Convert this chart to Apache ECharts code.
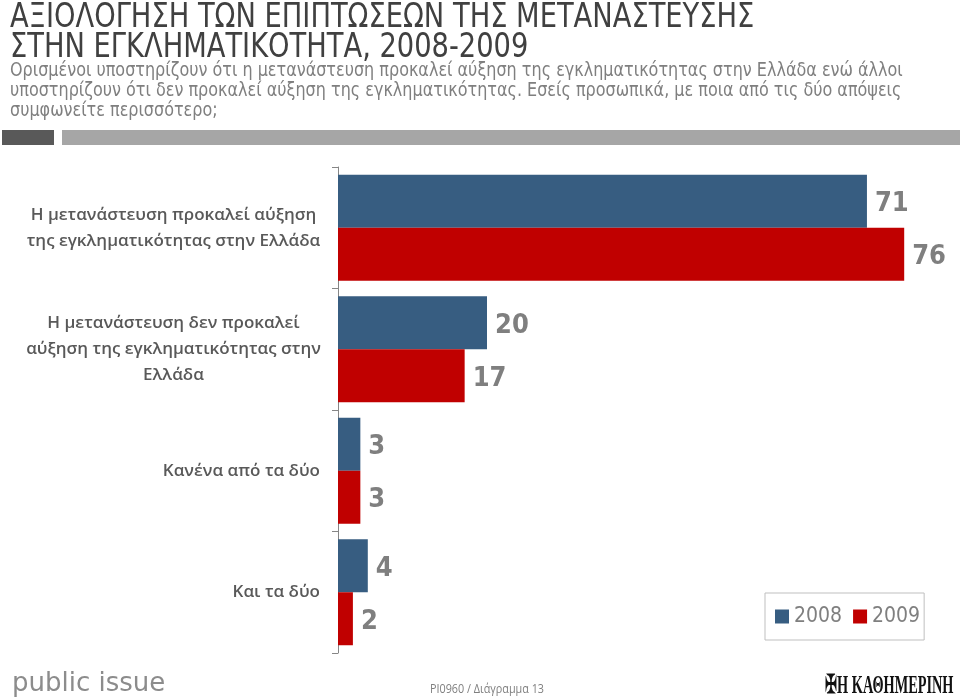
<!DOCTYPE html>
<html>
<head>
<meta charset="utf-8">
<script src="https://cdn.jsdelivr.net/npm/echarts@6/dist/echarts.min.js"></script>
<style>html,body{margin:0;padding:0;background:#fff}#c{width:960px;height:700px}</style>
</head>
<body>
<div id="c"></div>
<script>
var categories = [
  'Η μετανάστευση προκαλεί αύξηση\nτης εγκληματικότητας στην Ελλάδα',
  'Η μετανάστευση δεν προκαλεί\nαύξηση της εγκληματικότητας στην\nΕλλάδα',
  'Κανένα από τα δύο',
  'Και τα δύο'
];
var seriesNames = ['2008', '2009'];
var values2008 = [71, 20, 3, 4];
var values2009 = [76, 17, 3, 2];
var titleText = 'ΑΞΙΟΛΟΓΗΣΗ ΤΩΝ ΕΠΙΠΤΩΣΕΩΝ ΤΗΣ ΜΕΤΑΝΑΣΤΕΥΣΗΣ\nΣΤΗΝ ΕΓΚΛΗΜΑΤΙΚΟΤΗΤΑ, 2008-2009';
var subText = 'Ορισμένοι υποστηρίζουν ότι η μετανάστευση προκαλεί αύξηση της εγκληματικότητας στην Ελλάδα ενώ άλλοι\nυποστηρίζουν ότι δεν προκαλεί αύξηση της εγκληματικότητας. Εσείς προσωπικά, με ποια από τις δύο απόψεις\nσυμφωνείτε περισσότερο;';

var narrow = "'DejaVu Sans Condensed', 'Liberation Sans Narrow', sans-serif";
var chart = echarts.init(document.getElementById('c'));
var labelStyle = {
  show: true, position: 'right', distance: 8, offset: [0, 3],
  color: '#7f7f7f', fontSize: 27, fontFamily: narrow, fontWeight: 'bold'
};
chart.setOption({
  backgroundColor: '#fff',
  animation: false,
  legend: {
    data: seriesNames,
    left: 765, top: 593,
    padding: [13, 4, 13, 10],
    borderColor: '#bfbfbf', borderWidth: 1,
    itemWidth: 14, itemHeight: 14, itemGap: 11,
    icon: 'rect',
    textStyle: { color: '#7f7f7f', fontSize: 21, fontFamily: narrow, padding: [0, 0, 0, 0] }
  },
  grid: { left: 338, right: 26, top: 167, bottom: 47, containLabel: false },
  xAxis: {
    type: 'value', min: 0, max: 80,
    show: false
  },
  yAxis: {
    type: 'category',
    data: categories,
    inverse: true,
    axisLine: { show: true, lineStyle: { color: '#868686', width: 1 } },
    axisTick: { show: true, length: 6, lineStyle: { color: '#868686' } },
    axisLabel: {
      margin: 18,
      formatter: function (v, i) {
        return i < 2 ? '{c|' + v.split('\n').join('}\n{c|') + '}' : '{r|' + v + '}';
      },
      rich: {
        c: { width: 293, align: 'center', color: '#595959', fontSize: 17, fontFamily: "'Open Sans', sans-serif", fontWeight: 600, lineHeight: 26 },
        r: { color: '#595959', fontSize: 17, fontFamily: "'Open Sans', sans-serif", fontWeight: 600, lineHeight: 26 }
      }
    }
  },
  series: [
    { name: seriesNames[0], type: 'bar', data: values2008, barWidth: 53, barGap: '0%',
      itemStyle: { color: '#375d81' }, label: labelStyle },
    { name: seriesNames[1], type: 'bar', data: values2009, barWidth: 53, barGap: '0%',
      itemStyle: { color: '#c00000' }, label: labelStyle }
  ],
  graphic: [
    { type: 'text', x: 10, y: 3, scaleX: 0.92,
      style: { text: titleText, fill: '#404040', font: "33px 'DejaVu Sans Condensed', sans-serif", lineHeight: 30, verticalAlign: 'top' } },
    { type: 'text', x: 10, y: 61, scaleX: 0.937,
      style: { text: subText, fill: '#7f7f7f', font: "19px 'DejaVu Sans Condensed', sans-serif", lineHeight: 20, verticalAlign: 'top' } },
    { type: 'rect', shape: { x: 2, y: 130, width: 52, height: 15 }, style: { fill: '#595959' } },
    { type: 'rect', shape: { x: 62, y: 130, width: 898, height: 15 }, style: { fill: '#a6a6a6' } },
    { type: 'text', x: 12, y: 671, style: { text: 'public issue', fill: '#8c8c8c', font: "26px 'DejaVu Sans', sans-serif", verticalAlign: 'top' } },
    { type: 'text', x: 430, y: 684, scaleX: 0.9, style: { text: 'PI0960 / Διάγραμμα 13', fill: '#7f7f7f', font: "12px 'Open Sans', sans-serif", verticalAlign: 'top' } },
    { type: 'text', x: 825, y: 673, scaleX: 0.55, style: { text: '✠Η ΚΑΘΗΜΕΡΙΝΗ', fill: '#111', font: "bold 26px 'Liberation Serif', serif", verticalAlign: 'top' } }
  ]
});
</script>
</body>
</html>
